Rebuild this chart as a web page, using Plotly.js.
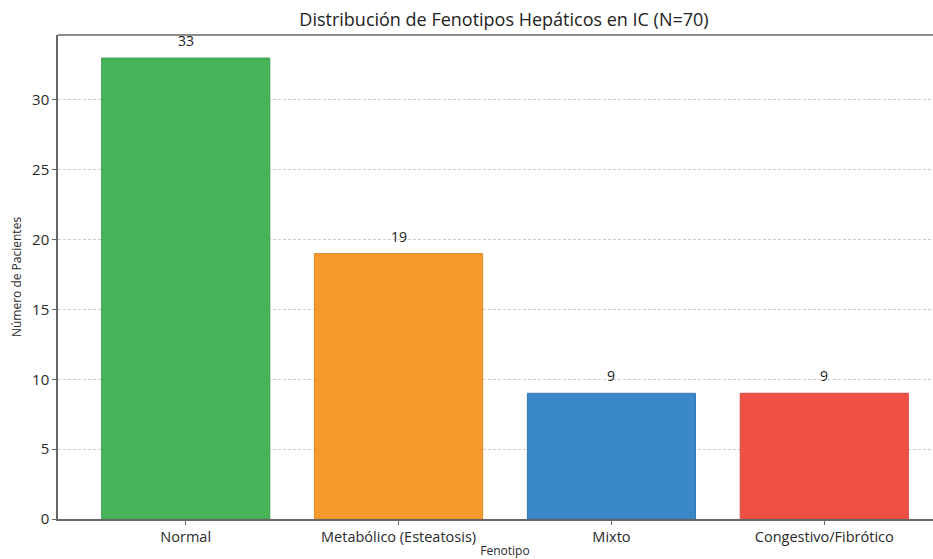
<!DOCTYPE html>
<html>
<head>
<meta charset="utf-8">
<script src="https://cdn.plot.ly/plotly-3.0.1.min.js"></script>
<style>
  html, body { margin: 0; padding: 0; overflow: hidden; background: #fff; }
  #chart { width: 955px; height: 559px; }
</style>
</head>
<body>
<div id="chart"></div>
<script>
const categories = ["Normal", "Metabólico (Esteatosis)", "Mixto", "Congestivo/Fibrótico"];
const patients = [33, 19, 9, 9];
const barColors = ["#47b45a", "#f5992d", "#3a88c8", "#ee5044"];
const edgeColors = ["#3f9f50", "#e08a28", "#3379b3", "#d64a3f"];

const font = "Open Sans, Roboto, sans-serif";

const trace = {
  type: "bar",
  x: categories.map((c, i) => i),
  y: patients,
  width: 0.79,
  marker: { color: barColors, line: { color: edgeColors, width: 1 } },
  hoverinfo: "skip",
};

const labels = patients.map((v, i) => ({
  x: i,
  y: v,
  text: String(v),
  showarrow: false,
  yanchor: "bottom",
  yshift: 6,
  font: { family: font, size: 14, color: "#222" },
}));

Plotly.newPlot("chart", [trace], {
  width: 955,
  height: 559,
  margin: { l: 58, r: 3, t: 35, b: 40 },
  paper_bgcolor: "#fff",
  plot_bgcolor: "#fff",
  font: { family: font, color: "#2a2a2a" },
  title: {
    text: "Distribución de Fenotipos Hepáticos en IC (N=70)",
    font: { family: font, size: 18, color: "#222" },
    x: 504 / 955,
    xanchor: "center",
    y: 1 - 20 / 559,
    yanchor: "middle",
  },
  showlegend: false,
  annotations: labels,
  xaxis: {
    range: [-0.6, 3.6],
    tickvals: categories.map((c, i) => i),
    ticktext: categories,
    tickfont: { family: font, size: 14.5, color: "#2a2a2a" },
    ticks: "outside",
    ticklen: 4,
    tickcolor: "#666",
    showline: true,
    linecolor: "#666",
    linewidth: 1.5,
    showgrid: false,
    zeroline: false,
    automargin: false,
    title: { text: "Fenotipo", font: { family: font, size: 12, color: "#2a2a2a" }, standoff: 6 },
  },
  yaxis: {
    range: [0, 34.65],
    tickvals: [0, 5, 10, 15, 20, 25, 30],
    tickfont: { family: font, size: 15, color: "#2a2a2a" },
    ticks: "outside",
    ticklen: 4,
    tickcolor: "#666",
    showline: true,
    linecolor: "#666",
    linewidth: 1.5,
    showgrid: true,
    gridcolor: "#cccccc",
    griddash: "3px,2px",
    gridwidth: 1,
    zeroline: false,
    automargin: false,
    title: { text: "Número de Pacientes", font: { family: font, size: 12, color: "#2a2a2a" }, standoff: 8 },
  },
  shapes: [{
    type: "line", xref: "paper", yref: "paper",
    x0: 0, x1: 1, y0: 1, y1: 1,
    line: { color: "#666", width: 1.5 },
  }],
}, { displayModeBar: false });
</script>
</body>
</html>
